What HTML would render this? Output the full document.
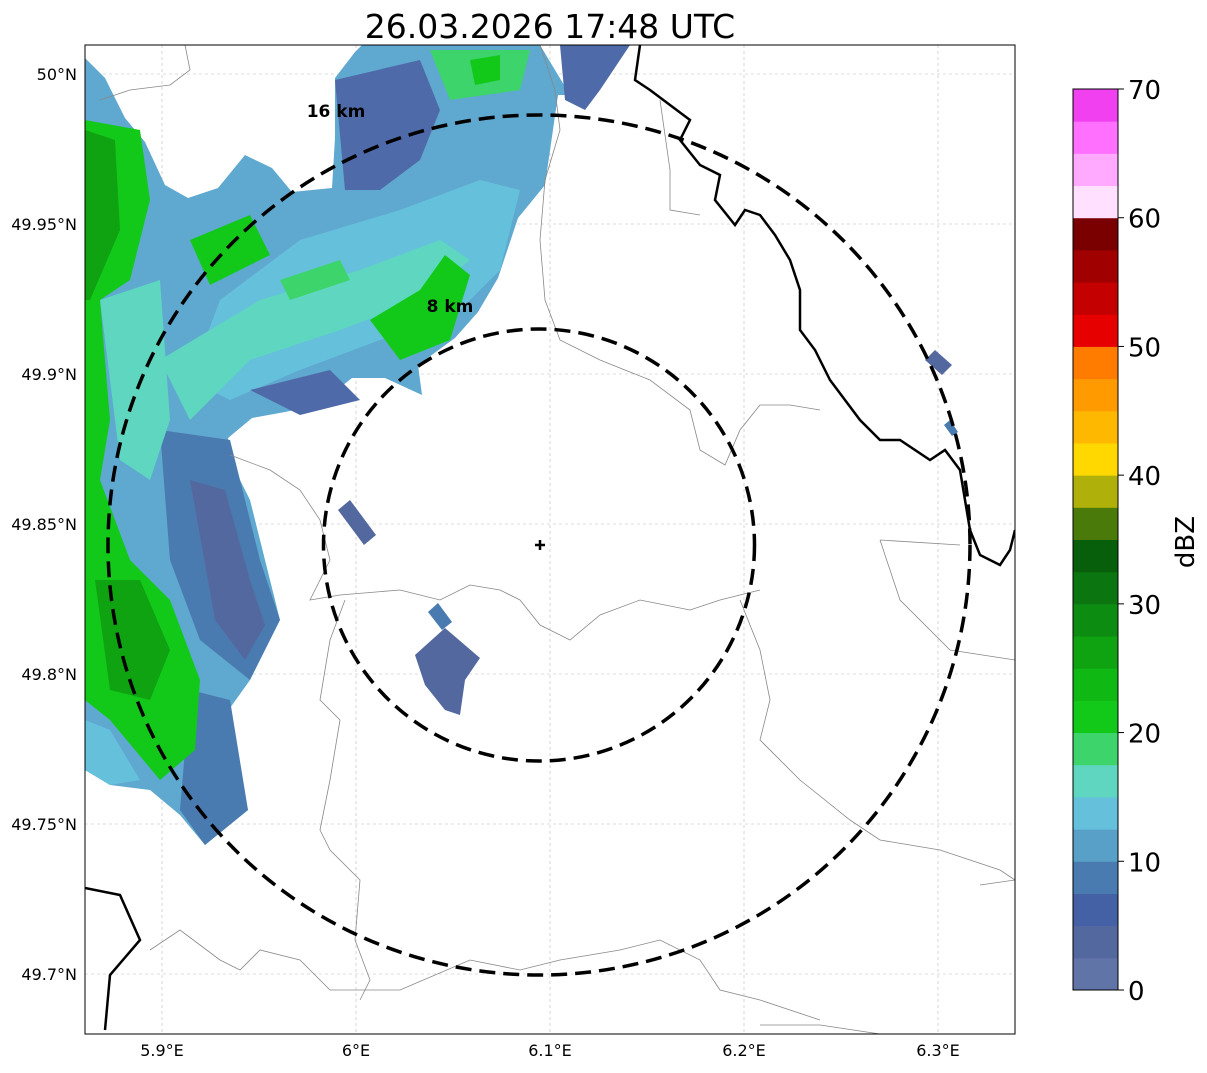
<!DOCTYPE html>
<html><head><meta charset="utf-8"><style>
body{margin:0;background:#fff;width:1207px;height:1069px;overflow:hidden;font-family:"DejaVu Sans","Liberation Sans",sans-serif}
</style></head><body>
<svg width="1207" height="1069" xmlns="http://www.w3.org/2000/svg" font-family="DejaVu Sans, Liberation Sans, sans-serif">
<text x="550" y="38" font-size="33" text-anchor="middle">26.03.2026 17:48 UTC</text>
<defs><clipPath id="mc"><rect x="85" y="45" width="930" height="989"/></clipPath></defs>
<g clip-path="url(#mc)">
<g id="grid"></g>
<g>
<polygon fill="#5fa8cf" points="85,58 105,78 125,118 145,142 165,185 188,198 218,188 245,155 272,168 292,192 332,188 335,138 335,78 355,52 362,45 540,45 570,95 558,95 545,185 518,218 498,278 478,312 455,338 418,365 422,395 385,378 352,378 318,405 285,412 252,418 228,438 235,470 250,500 265,560 280,620 255,640 250,680 225,715 235,760 248,810 205,845 180,815 150,790 110,785 85,770"/>
<polygon fill="#4f6aa8" points="560,45 630,45 600,90 585,110 565,100"/>
<polygon fill="#65c0dc" points="220,300 300,240 400,210 480,180 520,190 500,270 450,320 380,340 300,370 230,400 190,380"/>
<polygon fill="#5fd6c0" points="160,360 260,300 360,270 440,240 470,260 420,300 340,330 250,360 190,420"/>
<polygon fill="#4f6aa8" points="335,80 420,60 440,110 420,160 380,190 345,190"/>
<polygon fill="#4f6aa8" points="250,390 330,370 360,400 300,415"/>
<polygon fill="#4a7bb0" points="160,430 230,440 260,560 280,620 250,680 200,640 170,560"/>
<polygon fill="#5468a0" points="190,480 225,490 250,580 265,625 245,660 215,620"/>
<polygon fill="#4a7bb0" points="190,690 230,700 248,810 205,845 180,810"/>
<polygon fill="#5fd6c0" points="100,300 160,280 170,420 150,480 120,460"/>
<polygon fill="#12c91a" points="85,120 140,130 150,200 130,280 100,300 110,420 100,480 130,560 170,600 200,680 195,750 160,780 110,720 85,700"/>
<polygon fill="#0fa312" points="85,130 115,140 120,230 90,300 85,300"/>
<polygon fill="#0fa312" points="95,580 140,580 170,650 150,700 110,690"/>
<polygon fill="#65c0dc" points="85,720 110,730 140,780 110,785 85,770"/>
<polygon fill="#12c91a" points="190,240 250,215 270,255 210,285"/>
<polygon fill="#12c91a" points="370,320 420,290 445,255 470,275 450,340 400,360"/>
<polygon fill="#3dd46c" points="430,50 530,50 520,90 450,100"/>
<polygon fill="#12c91a" points="470,60 500,55 500,80 475,85"/>
<polygon fill="#3dd46c" points="280,280 340,260 350,280 290,300"/>
<polygon fill="#5468a0" points="338,510 350,500 376,535 364,545"/>
<polygon fill="#5468a0" points="415,655 445,628 480,658 465,680 460,715 445,710 425,685"/>
<polygon fill="#4a7bb0" points="428,612 438,603 452,622 442,630"/>
<polygon fill="#5468a0" points="925,360 935,350 952,365 942,375"/>
<polygon fill="#4a7bb0" points="944,425 950,420 958,432 952,436"/>
</g>
<g fill="none" stroke="#888" stroke-width="0.8">
<path d="M185,45 L190,70 170,85 130,90 100,100"/>
<path d="M540,45 L555,90 560,130 545,180 540,240 545,300 560,340 600,360 650,380 690,410 700,450 725,465 740,430 760,405 790,405 820,410"/>
<path d="M660,100 L670,170 670,210 700,215"/>
<path d="M230,455 L270,470 300,490 320,520 330,560 310,600 340,595 400,590 440,600 470,585 500,590 520,600 540,625 570,640 600,615 640,600 690,610 720,600 760,590"/>
<path d="M345,600 L330,640 320,700 340,720 330,780 320,830 330,850 360,880 355,940 370,980 360,1000"/>
<path d="M740,600 L760,650 770,700 760,740 800,780 850,820 880,840 940,850 1000,870 1015,880"/>
<path d="M880,540 L900,600 950,650 1015,660"/>
<path d="M150,950 L180,930 220,960 240,970 260,950 300,960 330,990 400,990 470,960 520,970 560,960 620,950 660,940 700,960 720,990 760,1000 820,1020"/>
<path d="M760,1025 L820,1025 880,1034"/>
<path d="M980,885 L1015,880"/>
<path d="M880,540 L960,545"/>
</g>
<g fill="none" stroke="#000" stroke-width="2.5">
<path d="M640,45 L635,80 650,90 690,120 680,140 700,165 720,175 715,200 735,225 745,210 760,215 775,235 790,260 800,290 800,330 815,350 830,380 860,420 880,440 900,440 930,460 945,450 960,470 965,500 970,530 980,555 1000,565 1010,550 1015,530"/>
<path d="M85,888 L120,895 140,940 110,975 105,1030"/>
</g>
<ellipse cx="539" cy="545" rx="215.5" ry="216" fill="none" stroke="#000" stroke-width="3.5" stroke-dasharray="16,8"/>
<ellipse cx="539" cy="545" rx="431" ry="430" fill="none" stroke="#000" stroke-width="3.5" stroke-dasharray="16,8"/>
<text x="336" y="117" font-size="17" font-weight="bold" text-anchor="middle">16 km</text>
<text x="450" y="312" font-size="17" font-weight="bold" text-anchor="middle">8 km</text>
<path d="M535,545 H545 M540,540 V550" stroke="#000" stroke-width="2.5"/>
</g>
<rect x="85" y="45" width="930" height="989" fill="none" stroke="#000" stroke-width="1"/>
<g id="labels" font-size="16"></g>
<g id="cbar"></g>
<text transform="translate(1194,542) rotate(-90)" font-size="26" text-anchor="middle">dBZ</text>
<script>
const lonTicks=[5.9,6.0,6.1,6.2,6.3];
const lonLabels=["5.9°E","6°E","6.1°E","6.2°E","6.3°E"];
const latTicks=[50.0,49.95,49.9,49.85,49.8,49.75,49.7];
const latLabels=["50°N","49.95°N","49.9°N","49.85°N","49.8°N","49.75°N","49.7°N"];
const cbColors=["#6174a8","#5468a0","#4561a5","#4a7bb0","#58a0c8","#65c0dc","#5fd6c0","#3dd46c","#12c91a","#10b814","#0fa312","#0d8c12","#0b7510","#075e0b","#4a7a0a","#b0b00a","#ffd800","#ffb800","#ff9a00","#ff7c00","#e60000","#c40000","#a00000","#7a0000","#ffe0ff","#ffaaff","#ff70ff","#f040f0"];
const cbTicks=[0,10,20,30,40,50,60,70];
const NS="http://www.w3.org/2000/svg";
const xOf=l=>162+(l-5.9)*1940;
const yOf=l=>74+(50-l)*3000;
const cbY=v=>990-v*(901/70);
const grid=document.getElementById('grid'),lab=document.getElementById('labels'),cb=document.getElementById('cbar');
function mk(tag,attrs,parent){const e=document.createElementNS(NS,tag);for(const k in attrs)e.setAttribute(k,attrs[k]);parent.appendChild(e);return e;}
lonTicks.forEach((v,i)=>{
 const l=mk('line',{x1:xOf(v),x2:xOf(v),y1:45,y2:1034,stroke:'#bbb','stroke-width':0.6,'stroke-dasharray':'3,3'},grid);
 
 
 const t=mk('text',{x:xOf(v),y:1056,'text-anchor':'middle'},lab);t.textContent=lonLabels[i];
 
 
});
latTicks.forEach((v,i)=>{
 const l=mk('line',{x1:85,x2:1015,y1:yOf(v),y2:yOf(v),stroke:'#bbb','stroke-width':0.6,'stroke-dasharray':'3,3'},grid);
 
 
 const t=mk('text',{x:77,y:yOf(v)+6,'text-anchor':'end'},lab);t.textContent=latLabels[i];
 
 
});
cbColors.forEach((c,i)=>{
 const v0=i*2.5,v1=v0+2.5;
 const r=mk('rect',{x:1073,width:45,y:cbY(v1),height:cbY(v0)-cbY(v1)+0.5,fill:c},cb);
 
 
});
const fr=mk('rect',{x:1073,y:89,width:45,height:901,fill:'none',stroke:'#000','stroke-width':1},cb);


cbTicks.forEach(v=>{
 mk('line',{x1:1118,x2:1124,y1:cbY(v),y2:cbY(v),stroke:'#000'},cb);
 const t=mk('text',{x:1128,y:cbY(v)+10,'font-size':26},cb);t.textContent=v;
 
 
});
</script>
</svg>
</body></html>
